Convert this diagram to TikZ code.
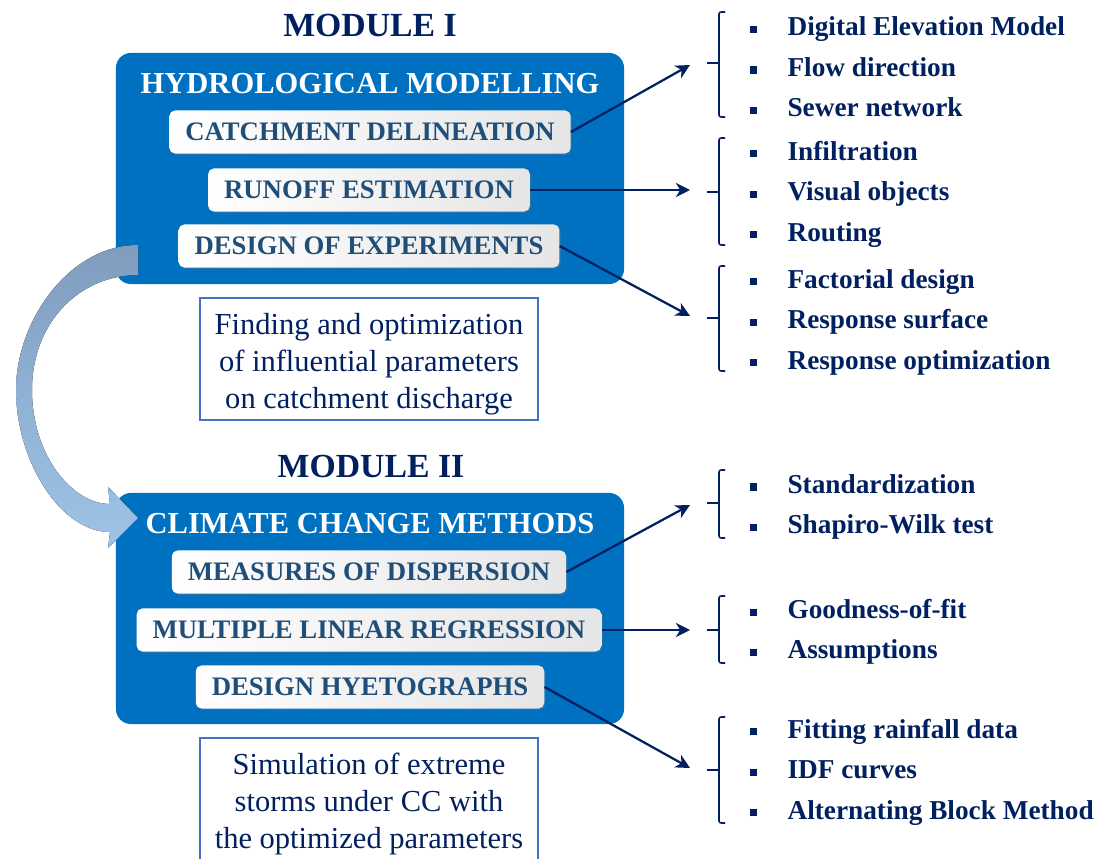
\documentclass[tikz,border=0pt]{standalone}
\usepackage{fontspec}
\setmainfont{Liberation Serif}
\usetikzlibrary{arrows.meta, positioning, shadows}
\definecolor{modblue}{HTML}{0070C0}
\definecolor{navy}{HTML}{002060}
\definecolor{steel}{HTML}{1F4E79}
\definecolor{framecol}{HTML}{4472C4}
\definecolor{bandtop}{HTML}{7F9CBD}
\definecolor{bandbot}{HTML}{9DC3E6}
% square bullet for the method lists
\newcommand{\itm}{\makebox[26.5pt][l]{\raisebox{2pt}{\rule{5pt}{5pt}}}}
% taller first line in the framed notes
\newcommand{\topstrut}{\rule{0pt}{22pt}}

\begin{document}
\begin{tikzpicture}[x=0.025cm, y=-0.025cm,
    modtitle/.style={font=\fontsize{24}{28}\selectfont\bfseries, text=navy},
    modbox/.style={fill=modblue, rounded corners=0.375cm,
                   minimum width=12.7cm, minimum height=5.775cm},
    headtxt/.style={text=white, font=\fontsize{21.7}{26}\selectfont\bfseries},
    subbox/.style={rounded corners=4pt, left color=white, right color=black!10,
                   drop shadow={opacity=0.25, shadow xshift=1pt, shadow yshift=-1pt},
                   text=steel, font=\fontsize{19}{22}\selectfont\bfseries,
                   inner xsep=0.4cm, minimum height=1.075cm},
    textbox/.style={draw=framecol, line width=0.8pt, fill=white,
                    minimum width=8.45cm, minimum height=3.05cm, align=center,
                    text=navy, font=\fontsize{21.7}{26.2}\selectfont},
    list/.style={align=left, inner sep=0pt, text=navy,
                 font=\fontsize{19.4}{28.8}\selectfont\bfseries},
    brk/.style={navy, line width=1.1pt, rounded corners=1.5pt},
    arr/.style={-{Stealth[length=10pt, width=10pt, inset=3pt]}, navy, line width=1.6pt},
    band/.style={top color=bandtop, bottom color=bandbot, middle color=bandtop!45!bandbot}
  ]
  \useasboundingbox (0,0) rectangle (1097,859);

  % module I
  \node[modtitle] (modone) at (370,25) {MODULE I};
  \node[modbox] (hydrobox) at (370,168.5) {};
  \node[headtxt] (hydro) at (370,84) {HYDROLOGICAL MODELLING};
  \node[subbox] (catch) at (370,132) {CATCHMENT DELINEATION};
  \node[subbox] (runoff) at (369,190) {RUNOFF ESTIMATION};
  \node[subbox] (doe) at (369,246) {DESIGN OF EXPERIMENTS};
  \node[textbox] (findbox) at (369,359)
    {\topstrut Finding and optimization\\of influential parameters\\on catchment discharge};

  % module II
  \node[modtitle] (modtwo) at (371,466) {MODULE II};
  \node[modbox] (ccbox) at (370,608.5) {};
  \node[headtxt] (cc) at (370,524) {CLIMATE CHANGE METHODS};
  \node[subbox] (meas) at (369,572) {MEASURES OF DISPERSION};
  \node[subbox] (mlr) at (369,630) {MULTIPLE LINEAR REGRESSION};
  \node[subbox] (hyet) at (370,687) {DESIGN HYETOGRAPHS};
  \node[textbox] (simbox) at (369,799)
    {\topstrut Simulation of extreme\\storms under CC with\\the optimized parameters};

  % curved link from module I to module II
  \fill[band] (138,245) .. controls (70,245) and (16,320) .. (16,390)
    .. controls (16,460) and (60,532) .. (110,532)
    -- (108,548) -- (138,518) -- (108,487) -- (110,504)
    .. controls (72,504) and (32,455) .. (32,390)
    .. controls (32,322) and (80,275) .. (138,275) -- cycle;

  % lists of methods
  \node[list, anchor=west] (catchlist) at (750,67)
    {\itm Digital Elevation Model\\ \itm Flow direction\\ \itm Sewer network};
  \node[list, anchor=west] (runofflist) at (750,194)
    {\itm Infiltration\\ \itm Visual objects\\ \itm Routing};
  \node[list, anchor=west] (doelist) at (750,322)
    {\itm Factorial design\\ \itm Response surface\\ \itm Response optimization};
  \node[list, anchor=west] (measlist) at (750,507)
    {\itm Standardization\\ \itm Shapiro-Wilk test};
  \node[list, anchor=west] (mlrlist) at (750,632)
    {\itm Goodness-of-fit\\ \itm Assumptions};
  \node[list, anchor=west] (hyetlist) at (750,772)
    {\itm Fitting rainfall data\\ \itm IDF curves\\ \itm Alternating Block Method};

  % brackets
  \draw[brk] (725,12) -- (719,12) -- (719,117) -- (725,117);
  \draw[brk] (707,63) -- (719,63);
  \draw[brk] (725,138) -- (719,138) -- (719,245) -- (725,245);
  \draw[brk] (707,192) -- (719,192);
  \draw[brk] (725,266) -- (719,266) -- (719,371) -- (725,371);
  \draw[brk] (707,318) -- (719,318);
  \draw[brk] (725,470) -- (719,470) -- (719,538) -- (725,538);
  \draw[brk] (707,503) -- (719,503);
  \draw[brk] (725,596) -- (719,596) -- (719,663) -- (725,663);
  \draw[brk] (707,630) -- (719,630);
  \draw[brk] (725,717) -- (719,717) -- (719,823) -- (725,823);
  \draw[brk] (707,770) -- (719,770);

  \coordinate (catchin) at (690,65);
  \coordinate (runoffin) at (690,190);
  \coordinate (doein) at (690,316);
  \coordinate (measin) at (690,505);
  \coordinate (mlrin) at (690,630);
  \coordinate (hyetin) at (690,768);

  \draw[arr] (catch.east) -- (catchin);
  \draw[arr] (runoff.east) -- (runoffin);
  \draw[arr] (doe.east) -- (doein);
  \draw[arr] (meas.east) -- (measin);
  \draw[arr] (mlr.east) -- (mlrin);
  \draw[arr] (hyet.east) -- (hyetin);
\end{tikzpicture}
\end{document}
